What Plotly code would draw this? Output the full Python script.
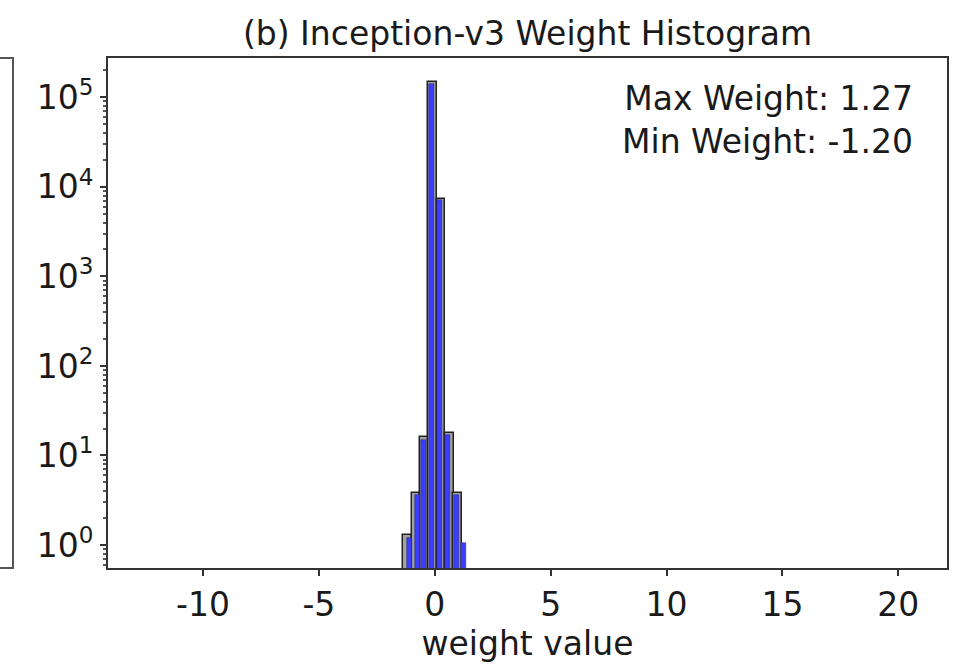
import plotly.graph_objects as go

# ---- data ----
grey_centers = [-1.17, -0.81, -0.45, -0.09, 0.27, 0.63, 0.99]
grey_counts = [1.3, 3.8, 16, 147000, 7400, 18, 3.8]
blue_centers = [-1.08, -0.73, -0.47, -0.14, 0.20, 0.53, 0.92, 1.22]
blue_counts = [1.2, 3.6, 15, 140000, 7200, 17, 3.6, 1.05]
x_ticks = [-10, -5, 0, 5, 10, 15, 20]
x_ticktext = ["-10", "-5", "0", "5", "10", "15", "20"]
y_ticks = [1, 10, 100, 1000, 10000, 100000]
y_ticktext = ["10<sup>%d</sup>" % i for i in range(6)]
title_text = "(b) Inception-v3 Weight Histogram"
x_title = "weight value"
note_text = "Max Weight: 1.27<br>Min Weight: -1.20"

FONT = "DejaVu Sans, Liberation Sans, Arial, sans-serif"
TXT = "#1a1a1a"
W, H = 961, 670
ML, MR, MT, MB = 108, 14, 58, 102

fig = go.Figure()
fig.add_trace(go.Bar(
    x=grey_centers, y=grey_counts, width=0.37,
    marker=dict(color="#a2a2a2", line=dict(color="#222222", width=1.5)),
    showlegend=False))
fig.add_trace(go.Bar(
    x=blue_centers, y=blue_counts, width=0.21,
    marker=dict(color="#3d3dff", line=dict(color="#222266", width=0.5)),
    showlegend=False))

axis_common = dict(showline=True, linecolor="#333333", linewidth=2, mirror=True,
                   ticks="outside", tickcolor="#333333", tickwidth=1.5,
                   showgrid=False, zeroline=False,
                   tickfont=dict(family=FONT, size=33, color=TXT))

fig.update_xaxes(range=[-14.1, 22.1], tickvals=x_ticks, ticktext=x_ticktext, ticklen=6,
                 title=dict(text=x_title, font=dict(family=FONT, size=33, color=TXT),
                            standoff=4),
                 **axis_common)
fig.update_yaxes(type="log", range=[-0.257, 5.44], tickvals=y_ticks, ticktext=y_ticktext,
                 ticklen=6,
                 minor=dict(ticks="outside", ticklen=3, tickcolor="#555555",
                            dtick="D1", showgrid=False),
                 **axis_common)

# partial frame of the neighbouring panel (a) at the left edge
xr = (13 - ML) / (W - ML - MR)
fig.add_shape(type="path", xref="paper", yref="paper",
              path=f"M -0.3,1 L {xr},1 L {xr},0 L -0.3,0",
              line=dict(color="#555555", width=2))

fig.add_annotation(text=note_text, xref="paper", yref="paper",
                   x=(915 - ML) / (W - ML - MR), y=(568 - 120) / (568 - 58),
                   xanchor="right", yanchor="middle", align="right", showarrow=False,
                   font=dict(family=FONT, size=33, color=TXT))

fig.update_layout(
    width=W, height=H,
    margin=dict(l=ML, r=MR, t=MT, b=MB, pad=0),
    paper_bgcolor="white", plot_bgcolor="white",
    barmode="overlay", bargap=0,
    title=dict(text=title_text, x=0.5, xref="paper", y=1 - 33 / H, yref="container",
               xanchor="center", yanchor="middle",
               font=dict(family=FONT, size=33, color=TXT)),
)

fig.write_html("out.html")
